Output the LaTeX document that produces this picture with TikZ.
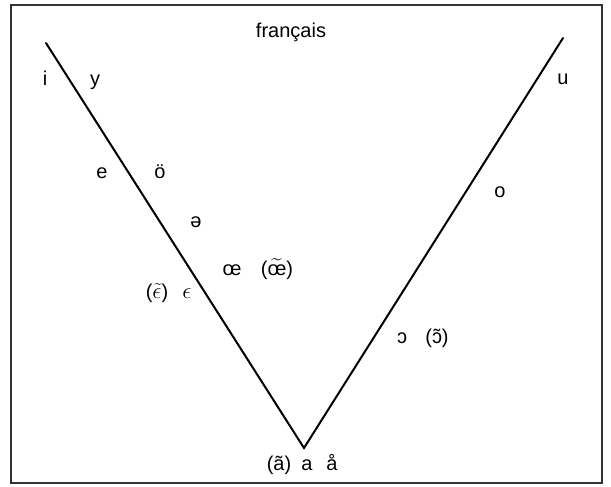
\documentclass[tikz,border=0pt]{standalone}
\usepackage{amsmath}
\usepackage{fontspec}
\setmainfont{Liberation Sans}
\usetikzlibrary{positioning}

\begin{document}
\begin{tikzpicture}[x=0.75pt, y=-0.75pt,
        vowel/.style={anchor=base, inner sep=0pt, font=\fontsize{15}{18}\selectfont},
        greek/.style={vowel, font=\fontsize{17}{20}\selectfont},
        arm/.style={line width=1.5pt, line cap=round},
        frame/.style={line width=1.6pt, draw=black!80}]

        \useasboundingbox (0,0) rectangle (611,486);
        \draw[frame] (11,5) rectangle (602,483);

        % Corners of the triangle
        \coordinate (iTop) at (46,43);
        \coordinate (aLow) at (304,448);
        \coordinate (uTop) at (563,38);

        % Lines
        \draw[arm] (iTop) -- (aLow) -- (uTop);

        % Title
        \node[vowel] (title) at (291,37) {français};

        % Vowels
        \node[vowel] (vi) at (45,85) {i};
        \node[vowel] (vy) at (95,85) {y};
        \node[vowel] (vu) at (563,84) {u};
        \node[vowel] (ve) at (102,178) {e};
        \node[vowel] (voe) at (160,178) {ö};
        \node[vowel] (vschwa) at (196,227) {ə};
        \node[vowel] (voelig) at (232,275) {œ};
        \node[vowel] (voenas) at (277,275) {($\widetilde{\text{œ}}$)};
        \node[vowel] (venas) at (157,298) {({\fontsize{17}{20}\selectfont$\tilde{\epsilon}$})};
        \node[greek] (veps) at (187,298) {$\epsilon$};
        \node[vowel] (vo) at (500,197) {o};
        \node[vowel] (vopen) at (402,343) {ɔ};
        \node[vowel] (vopnas) at (437,343) {(\~{ɔ})};
        \node[vowel] (vanas) at (279,470) {(ã)};
        \node[vowel] (va) at (307,470) {a};
        \node[vowel] (vring) at (332,470) {å};
\end{tikzpicture}
\end{document}
